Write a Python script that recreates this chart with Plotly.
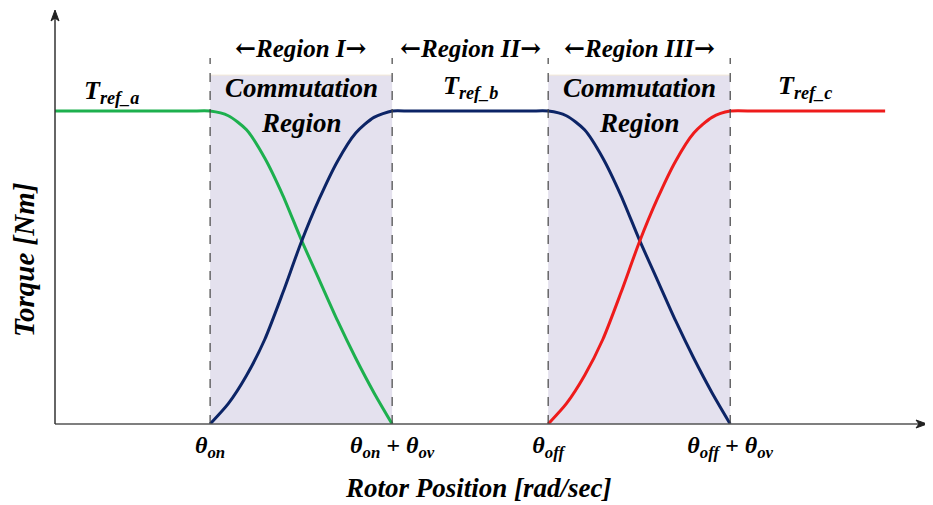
import plotly.graph_objects as go

# ---------------- data ----------------
# angular positions (arbitrary units; commutation width = 1)
theta_on = 0.852
theta_ov = 1.0
theta_off = 2.709
x_axis_max = 4.79
y_axis_max = 1.323

tick_vals = [theta_on, theta_on + theta_ov, theta_off, theta_off + theta_ov]
tick_text = ["<b><i>θ<sub>on</sub></i></b>", "<b><i>θ<sub>on</sub> + θ<sub>ov</sub></i></b>",
             "<b><i>θ<sub>off</sub></i></b>", "<b><i>θ<sub>off</sub> + θ<sub>ov</sub></i></b>"]

# phase a (green): flat then falling in Region I
green_x = [0.00, 0.60, 0.75, 0.852, 0.952, 1.052, 1.152, 1.252, 1.352, 1.452, 1.552, 1.652, 1.752, 1.852]
green_y = [1.00, 1.00, 1.00, 1.000, 0.985, 0.940, 0.850, 0.730, 0.590, 0.460, 0.330, 0.210, 0.100, 0.000]

# phase b (navy): rising in Region I, flat in Region II, falling in Region III
blue_x = [0.852, 0.952, 1.052, 1.152, 1.252, 1.352, 1.452, 1.552, 1.652, 1.752, 1.852,
          1.95, 2.28, 2.61,
          2.709, 2.809, 2.909, 3.009, 3.109, 3.209, 3.309, 3.409, 3.509, 3.609, 3.709]
blue_y = [0.000, 0.065, 0.155, 0.270, 0.420, 0.580, 0.720, 0.840, 0.930, 0.980, 1.000,
          1.00, 1.00, 1.00,
          1.000, 0.985, 0.940, 0.850, 0.730, 0.590, 0.460, 0.330, 0.210, 0.100, 0.000]

# phase c (red): rising in Region III then flat
red_x = [2.709, 2.809, 2.909, 3.009, 3.109, 3.209, 3.309, 3.409, 3.509, 3.609, 3.709, 3.85, 4.20, 4.56]
red_y = [0.000, 0.065, 0.155, 0.270, 0.420, 0.580, 0.720, 0.840, 0.930, 0.980, 1.000, 1.00, 1.00, 1.00]

# ---------------- figure ----------------
FONT = "Liberation Serif, Times New Roman, serif"
PW, PH = 872.0, 414.0  # plot area size in px (for paper-space decorations)
fig = go.Figure()

line_opts = dict(shape="spline", smoothing=0.7, width=3)
fig.add_trace(go.Scatter(x=green_x, y=green_y, mode="lines",
                         line=dict(color="#1db04e", **line_opts), hoverinfo="skip"))
fig.add_trace(go.Scatter(x=blue_x, y=blue_y, mode="lines",
                         line=dict(color="#0c2466", **line_opts), hoverinfo="skip"))
fig.add_trace(go.Scatter(x=red_x, y=red_y, mode="lines",
                         line=dict(color="#ee1b1b", **line_opts), hoverinfo="skip"))

shapes = []
for x0 in [theta_on, theta_off]:
    shapes.append(dict(type="rect", xref="x", yref="y", x0=x0, x1=x0 + theta_ov,
                       y0=0, y1=1.115, fillcolor="#e4e1ee",
                       line=dict(width=0), layer="below"))
    shapes.append(dict(type="line", xref="x", yref="y", x0=x0, x1=x0 + theta_ov,
                       y0=1.115, y1=1.115, line=dict(color="#f3ead8", width=1), layer="below"))
for xv in tick_vals:
    shapes.append(dict(type="line", xref="x", yref="y", x0=xv, x1=xv, y0=0, y1=1.17,
                       line=dict(color="#444444", width=1.2, dash="dash"), layer="above"))
# axis lines (paper space, not clipped)
shapes.append(dict(type="line", xref="paper", yref="paper", x0=0, x1=1 - 4 / PW, y0=0, y1=0,
                   line=dict(color="#555555", width=1.5)))
shapes.append(dict(type="line", xref="paper", yref="paper", x0=0, x1=0, y0=0, y1=1 - 4 / PH,
                   line=dict(color="#333333", width=1.5)))
# axis arrowheads
shapes.append(dict(type="path", xref="paper", yref="paper",
                   path=f"M 1,0 L {1-11/PW},{4/PH} L {1-8/PW},0 L {1-11/PW},{-4/PH} Z",
                   fillcolor="#222222", line=dict(color="#222222", width=1)))
shapes.append(dict(type="path", xref="paper", yref="paper",
                   path=f"M 0,1 L {-4/PW},{1-11/PH} L 0,{1-8/PH} L {4/PW},{1-11/PH} Z",
                   fillcolor="#222222", line=dict(color="#222222", width=1)))

ARR_L = '<span style="font-family:DejaVu Serif">←</span>'
ARR_R = '<span style="font-family:DejaVu Serif">→</span>'


def txt(x, y, s, size, angle=0, ref="data"):
    r = ("x", "y") if ref == "data" else ("paper", "paper")
    return dict(x=x, y=y, xref=r[0], yref=r[1], text=f"<b><i>{s}</i></b>", showarrow=False,
                xanchor="center", yanchor="middle",
                textangle=angle, font=dict(size=size, family=FONT, color="black"))


annotations = [
    txt(theta_on + 0.5, 1.20, f"{ARR_L}Region I{ARR_R}", 25),
    txt(theta_on + theta_ov + (theta_off - theta_on - theta_ov) / 2, 1.20, f"{ARR_L}Region II{ARR_R}", 25),
    txt(theta_off + 0.5, 1.20, f"{ARR_L}Region III{ARR_R}", 25),
    txt(theta_on + 0.5, 1.073, "Commutation", 27),
    txt(theta_on + 0.5, 0.963, "Region", 27),
    txt(theta_off + 0.5, 1.073, "Commutation", 27),
    txt(theta_off + 0.5, 0.963, "Region", 27),
    txt(0.31, 1.06, "T<sub>ref_a</sub>", 26),
    txt(2.28, 1.077, "T<sub>ref_b</sub>", 26),
    txt(4.12, 1.077, "T<sub>ref_c</sub>", 26),
    txt(-31 / PW, 164 / PH, "Torque [Nm]", 29, angle=-90, ref="paper"),
    txt(423 / PW, -64 / PH, "Rotor Position [rad/sec]", 27, ref="paper"),
]

# page body has an 8px default margin, so the figure is sized/padded to compensate
fig.update_layout(
    width=925, height=497,
    margin=dict(l=47, r=6, t=2, b=81),
    paper_bgcolor="white", plot_bgcolor="white",
    showlegend=False,
    shapes=shapes, annotations=annotations,
    xaxis=dict(range=[0, x_axis_max], showgrid=False, zeroline=False, showline=False,
               automargin=False,
               tickmode="array", tickvals=tick_vals, ticktext=tick_text, ticks="",
               ticklabelstandoff=4,
               tickfont=dict(family=FONT, size=24, color="black")),
    yaxis=dict(range=[0, y_axis_max], showgrid=False, zeroline=False, showline=False,
               automargin=False, showticklabels=False, ticks=""),
)

fig.write_html("out.html")
